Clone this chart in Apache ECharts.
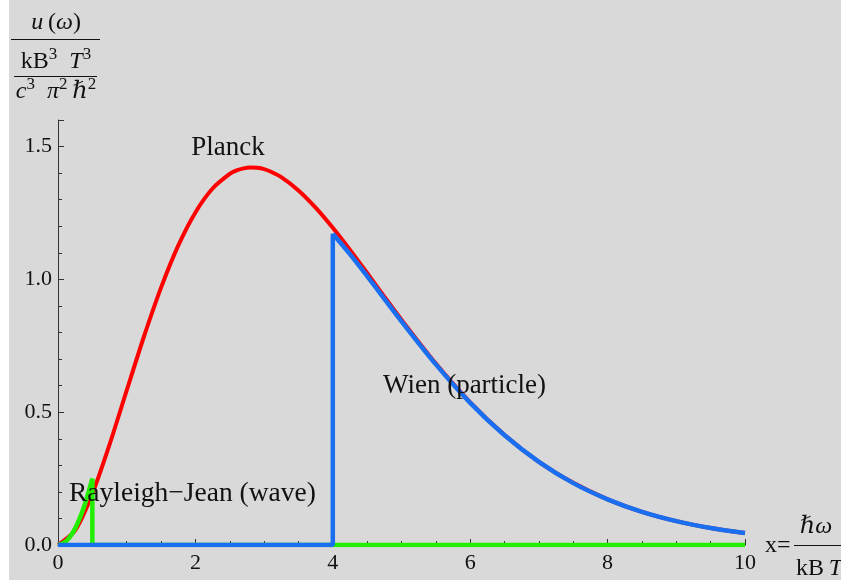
<!DOCTYPE html>
<html><head><meta charset="utf-8">
<script src="https://cdn.jsdelivr.net/npm/echarts@6/dist/echarts.min.js"></script>
<style>html,body{margin:0;padding:0;background:#fff}#c{width:841px;height:580px}</style>
</head><body><div id="c"></div>
<script>
// Planck: u(x)
const planckX = [0,0.25,0.5,0.75,1,1.25,1.5,1.75,2,2.25,2.5,2.6,2.7,2.8,2.9,3,3.1,3.25,3.5,3.75,4,4.25,4.5,4.75,5,5.5,6,6.5,7,7.5,8,8.5,9,9.5,10];
const planckY = [0,0.055,0.193,0.378,0.582,0.784,0.969,1.127,1.252,1.342,1.397,1.410,1.418,1.421,1.420,1.415,1.405,1.385,1.335,1.270,1.194,1.111,1.024,0.935,0.848,0.683,0.537,0.414,0.313,0.234,0.172,0.125,0.090,0.064,0.045];
// Wien (particle): zero until x=4, then curve
const wienStepX = [0,4,4];
const wienStepY = [0,0,1.172];
const wienX = [4,4.25,4.5,4.75,5,5.5,6,6.5,7,7.5,8,8.5,9,9.5,10];
const wienY = [1.172,1.095,1.012,0.927,0.842,0.680,0.535,0.413,0.313,0.233,0.172,0.125,0.090,0.064,0.045];
// Rayleigh-Jeans (wave): up to x=0.5, then zero
const rjX = [0,0.125,0.25,0.375,0.5];
const rjY = [0,0.016,0.0625,0.141,0.25];
const rjTailX = [0.5,0.5,10];
const rjTailY = [0.25,0,0];
const xTicks = [0,2,4,6,8,10];
const yTicks = [0,0.5,1.0,1.5];

const zip = (a,b)=>a.map((v,i)=>[v,b[i]]);
const serif = '"Liberation Serif","DejaVu Serif",serif';
const FS = 24;
const rich = {
  n:{fontSize:FS,fontFamily:serif,lineHeight:28,verticalAlign:'bottom'},
  i:{fontStyle:'italic',fontSize:FS,fontFamily:serif,lineHeight:28,verticalAlign:'bottom'},
  s:{fontSize:17,fontFamily:serif,lineHeight:28,verticalAlign:'top'}
};
const chart = echarts.init(document.getElementById('c'));
chart.setOption({
  backgroundColor:'#d9d9d9',
  animation:false,
  grid:{left:58,right:96,top:120,bottom:35},
  xAxis:{type:'value',min:0,max:10,interval:2,
    axisLine:{lineStyle:{color:'#333',width:1}},
    axisTick:{inside:true,length:6,lineStyle:{color:'#333'}},
    minorTick:{show:true,splitNumber:4,length:4,lineStyle:{color:'#333'}},
    splitLine:{show:false},
    axisLabel:{color:'#111',fontFamily:serif,fontSize:22,margin:7,
      formatter:v=>xTicks.includes(v)?String(v):''}},
  yAxis:{type:'value',min:0,max:1.6,interval:0.5,
    axisLine:{show:true,lineStyle:{color:'#333',width:1}},
    axisTick:{show:true,inside:true,length:6,lineStyle:{color:'#333'}},
    minorTick:{show:true,splitNumber:5,length:4,lineStyle:{color:'#333'}},
    splitLine:{show:false},
    axisLabel:{color:'#111',fontFamily:serif,fontSize:22,margin:6,
      formatter:v=>{const t=yTicks.find(k=>Math.abs(k-v)<1e-9);return t===undefined?'':t.toFixed(1);}}},
  series:[
    {type:'line',data:zip(planckX,planckY),smooth:0.25,showSymbol:false,lineStyle:{color:'#ff0000',width:4},z:2},
    {type:'line',data:zip(rjTailX,rjTailY),showSymbol:false,lineStyle:{color:'#22ee00',width:4.5},z:3},
    {type:'line',data:zip(rjX,rjY),smooth:0.3,showSymbol:false,lineStyle:{color:'#22ee00',width:4.5},z:3},
    {type:'line',data:zip(wienStepX,wienStepY),showSymbol:false,lineStyle:{color:'#1a6ff0',width:4.5},z:4},
    {type:'line',data:zip(wienX,wienY),smooth:0.3,showSymbol:false,lineStyle:{color:'#1a6ff0',width:4.5},z:4}
  ],
  graphic:[
    {type:'rect',left:0,top:0,shape:{width:9,height:580},style:{fill:'#fff'},z:100},
    {type:'text',x:228,y:148,style:{text:'Planck',font:'27px '+serif,fill:'#111',align:'center',verticalAlign:'middle'},z:100},
    {type:'text',x:383,y:386,style:{text:'Wien (particle)',font:'27px '+serif,fill:'#111',align:'left',verticalAlign:'middle'},z:100},
    {type:'text',x:69,y:494,style:{text:'Rayleigh\u2212Jean (wave)',font:'27.5px '+serif,fill:'#111',align:'left',verticalAlign:'middle'},z:100},
    // y-axis label fraction
    {type:'text',x:56,y:21,style:{text:'{i|u}{n|\u2009(}{i|\u03c9}{n|)}',align:'center',verticalAlign:'middle',fill:'#111',rich:rich},z:100},
    {type:'line',shape:{x1:11,y1:39.5,x2:100,y2:39.5},style:{stroke:'#111',lineWidth:1},z:100},
    {type:'text',x:56,y:60,style:{text:'{n|kB}{s|3}{n|\u2002}{i|T}{s|3}',align:'center',verticalAlign:'middle',fill:'#111',rich:rich},z:100},
    {type:'line',shape:{x1:14,y1:76.5,x2:97,y2:76.5},style:{stroke:'#111',lineWidth:1},z:100},
    {type:'text',x:56,y:90,style:{text:'{i|c}{s|3}{n|\u2002}{i|\u03c0}{s|2}{n|\u2009}{i|\u210f}{s|2}',align:'center',verticalAlign:'middle',fill:'#111',rich:rich},z:100},
    // x-axis label
    {type:'text',x:765,y:544,style:{text:'{n|x=}',align:'left',verticalAlign:'middle',fill:'#111',rich:rich},z:100},
    {type:'line',shape:{x1:794,y1:545.5,x2:841,y2:545.5},style:{stroke:'#111',lineWidth:1},z:100},
    {type:'text',x:816,y:525,style:{text:'{i|\u210f\u03c9}',align:'center',verticalAlign:'middle',fill:'#111',rich:rich},z:100},
    {type:'text',x:796,y:567,style:{text:'{n|kB\u2009}{i|T}',align:'left',verticalAlign:'middle',fill:'#111',rich:rich},z:100}
  ]
});
</script></body></html>
